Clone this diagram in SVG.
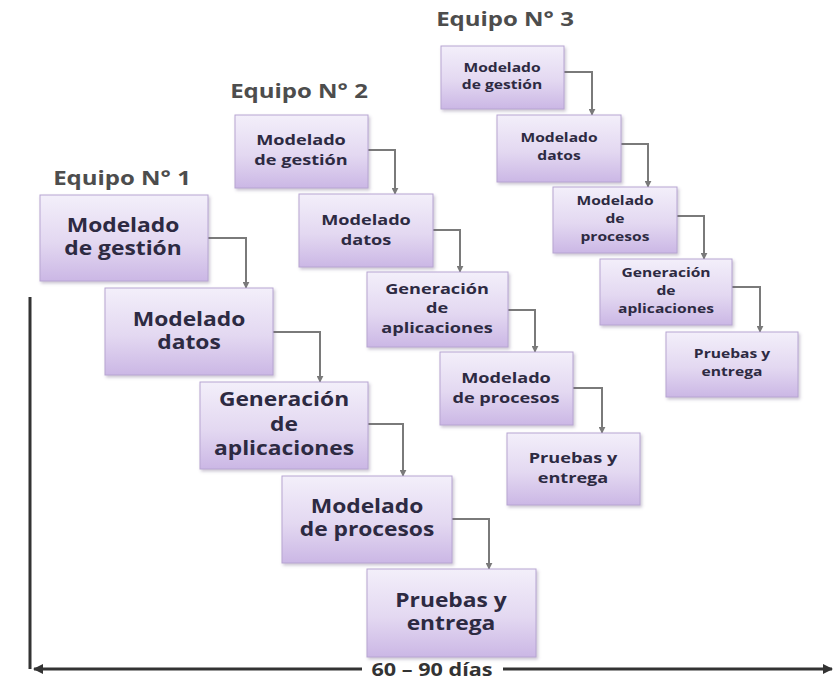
<svg xmlns="http://www.w3.org/2000/svg" width="833" height="678" viewBox="0 0 833 678">
  <defs>
    <linearGradient id="boxFill" x1="0" y1="0" x2="0" y2="1">
      <stop offset="0" stop-color="#f3effa"/>
      <stop offset="0.55" stop-color="#e3d8f1"/>
      <stop offset="1" stop-color="#cbb7e5"/>
    </linearGradient>
    <filter id="shadow" x="-10%" y="-10%" width="125%" height="130%">
      <feDropShadow dx="1.5" dy="2" stdDeviation="1.5" flood-color="#6a5a80" flood-opacity="0.35"/>
    </filter>
    <marker id="stepArrow" viewBox="0 0 10 10" refX="9" refY="5" markerWidth="7" markerHeight="7" markerUnits="userSpaceOnUse" orient="auto">
      <path d="M0,0 L10,5 L0,10 z" fill="#7a7a7a"/>
    </marker>
    <marker id="axisArrow" viewBox="0 0 10 10" refX="9" refY="5" markerWidth="10" markerHeight="10" markerUnits="userSpaceOnUse" orient="auto">
      <path d="M0,0 L10,5 L0,10 z" fill="#333"/>
    </marker>
  </defs>
  <style>
    .box { fill: url(#boxFill); stroke: #b7a5d2; stroke-width: 1; filter: url(#shadow); }
    .t1 { font-family: "Open Sans", "Liberation Sans", sans-serif; font-weight: bold; font-size: 19px; fill: #2d2a42; text-anchor: middle; }
    .t2 { font-family: "Open Sans", "Liberation Sans", sans-serif; font-weight: bold; font-size: 14.5px; fill: #2d2a42; text-anchor: middle; }
    .t3 { font-family: "Open Sans", "Liberation Sans", sans-serif; font-weight: bold; font-size: 12.5px; fill: #2d2a42; text-anchor: middle; }
    .team { font-family: "Open Sans", "Liberation Sans", sans-serif; font-weight: bold; font-size: 20px; fill: #4d4d4d; text-anchor: middle; }
    .step { fill: none; stroke: #7a7a7a; stroke-width: 2; marker-end: url(#stepArrow); }
    .axis { fill: none; stroke: #333; stroke-width: 3; }
    .axisLabel { font-family: "Open Sans", "Liberation Sans", sans-serif; font-weight: bold; font-size: 18px; fill: #333; text-anchor: middle; }
  </style>

  <rect width="833" height="678" fill="#ffffff"/>

  <!-- team headings -->
  <g id="team-labels">
    <text class="team" transform="matrix(1.2 0 0 1 122 0)" x="0" y="185">Equipo N° 1</text>
    <text class="team" transform="matrix(1.2 0 0 1 299 0)" x="0" y="98">Equipo N° 2</text>
    <text class="team" transform="matrix(1.2 0 0 1 505 0)" x="0" y="26">Equipo N° 3</text>
  </g>

  <!-- step connectors -->
  <g id="connectors">
    <path class="step" d="M208,238 H246 V288"/>
    <path class="step" d="M273,332 H320 V382"/>
    <path class="step" d="M368,424 H403 V476"/>
    <path class="step" d="M452,519 H489 V569"/>

    <path class="step" d="M368,150 H395 V194"/>
    <path class="step" d="M433,230 H460 V272"/>
    <path class="step" d="M508,310 H535 V352"/>
    <path class="step" d="M573,388 H602 V433"/>

    <path class="step" d="M564,72 H592 V115"/>
    <path class="step" d="M621,144 H648 V187"/>
    <path class="step" d="M677,216 H704 V259"/>
    <path class="step" d="M732,287 H760 V332"/>
  </g>

  <!-- team 1 -->
  <g id="e1-gestion">
    <rect class="box" x="40" y="195" width="168" height="86"/>
    <text class="t1" transform="matrix(1.2 0 0 1 123 0)" x="0" y="232">Modelado</text>
    <text class="t1" transform="matrix(1.2 0 0 1 123 0)" x="0" y="255">de gestión</text>
  </g>
  <g id="e1-datos">
    <rect class="box" x="105" y="288" width="168" height="87"/>
    <text class="t1" transform="matrix(1.2 0 0 1 189 0)" x="0" y="326">Modelado</text>
    <text class="t1" transform="matrix(1.2 0 0 1 189 0)" x="0" y="349">datos</text>
  </g>
  <g id="e1-aplicaciones">
    <rect class="box" x="200" y="382" width="168" height="87"/>
    <text class="t1" transform="matrix(1.2 0 0 1 284 0)" x="0" y="406">Generación</text>
    <text class="t1" transform="matrix(1.2 0 0 1 284 0)" x="0" y="431">de</text>
    <text class="t1" transform="matrix(1.2 0 0 1 284 0)" x="0" y="455">aplicaciones</text>
  </g>
  <g id="e1-procesos">
    <rect class="box" x="282" y="476" width="170" height="87"/>
    <text class="t1" transform="matrix(1.2 0 0 1 367 0)" x="0" y="513">Modelado</text>
    <text class="t1" transform="matrix(1.2 0 0 1 367 0)" x="0" y="536">de procesos</text>
  </g>
  <g id="e1-pruebas">
    <rect class="box" x="367" y="569" width="169" height="88"/>
    <text class="t1" transform="matrix(1.2 0 0 1 451 0)" x="0" y="607">Pruebas y</text>
    <text class="t1" transform="matrix(1.2 0 0 1 451 0)" x="0" y="630">entrega</text>
  </g>

  <!-- team 2 -->
  <g id="e2-gestion">
    <rect class="box" x="235" y="115" width="133" height="73"/>
    <text class="t2" transform="matrix(1.25 0 0 1 301 0)" x="0" y="145">Modelado</text>
    <text class="t2" transform="matrix(1.25 0 0 1 301 0)" x="0" y="165">de gestión</text>
  </g>
  <g id="e2-datos">
    <rect class="box" x="299" y="194" width="134" height="73"/>
    <text class="t2" transform="matrix(1.25 0 0 1 366 0)" x="0" y="225">Modelado</text>
    <text class="t2" transform="matrix(1.25 0 0 1 366 0)" x="0" y="245">datos</text>
  </g>
  <g id="e2-aplicaciones">
    <rect class="box" x="367" y="272" width="141" height="75"/>
    <text class="t2" transform="matrix(1.25 0 0 1 437 0)" x="0" y="294">Generación</text>
    <text class="t2" transform="matrix(1.25 0 0 1 437 0)" x="0" y="313">de</text>
    <text class="t2" transform="matrix(1.25 0 0 1 437 0)" x="0" y="333">aplicaciones</text>
  </g>
  <g id="e2-procesos">
    <rect class="box" x="440" y="352" width="133" height="73"/>
    <text class="t2" transform="matrix(1.25 0 0 1 506 0)" x="0" y="383">Modelado</text>
    <text class="t2" transform="matrix(1.25 0 0 1 506 0)" x="0" y="403">de procesos</text>
  </g>
  <g id="e2-pruebas">
    <rect class="box" x="507" y="433" width="133" height="72"/>
    <text class="t2" transform="matrix(1.25 0 0 1 573 0)" x="0" y="463">Pruebas y</text>
    <text class="t2" transform="matrix(1.25 0 0 1 573 0)" x="0" y="483">entrega</text>
  </g>

  <!-- team 3 -->
  <g id="e3-gestion">
    <rect class="box" x="441" y="46" width="123" height="63"/>
    <text class="t3" transform="matrix(1.25 0 0 1 502 0)" x="0" y="72">Modelado</text>
    <text class="t3" transform="matrix(1.25 0 0 1 502 0)" x="0" y="89">de gestión</text>
  </g>
  <g id="e3-datos">
    <rect class="box" x="497" y="115" width="124" height="67"/>
    <text class="t3" transform="matrix(1.25 0 0 1 559 0)" x="0" y="142">Modelado</text>
    <text class="t3" transform="matrix(1.25 0 0 1 559 0)" x="0" y="160">datos</text>
  </g>
  <g id="e3-procesos">
    <rect class="box" x="553" y="187" width="124" height="66"/>
    <text class="t3" transform="matrix(1.25 0 0 1 615 0)" x="0" y="205">Modelado</text>
    <text class="t3" transform="matrix(1.25 0 0 1 615 0)" x="0" y="223">de</text>
    <text class="t3" transform="matrix(1.25 0 0 1 615 0)" x="0" y="241">procesos</text>
  </g>
  <g id="e3-aplicaciones">
    <rect class="box" x="600" y="259" width="132" height="66"/>
    <text class="t3" transform="matrix(1.25 0 0 1 666 0)" x="0" y="277">Generación</text>
    <text class="t3" transform="matrix(1.25 0 0 1 666 0)" x="0" y="295">de</text>
    <text class="t3" transform="matrix(1.25 0 0 1 666 0)" x="0" y="313">aplicaciones</text>
  </g>
  <g id="e3-pruebas">
    <rect class="box" x="666" y="332" width="132" height="65"/>
    <text class="t3" transform="matrix(1.25 0 0 1 732 0)" x="0" y="358">Pruebas y</text>
    <text class="t3" transform="matrix(1.25 0 0 1 732 0)" x="0" y="376">entrega</text>
  </g>

  <!-- time axis -->
  <g id="time-axis">
    <path class="axis" d="M30,297 V669"/>
    <path class="axis" d="M362,669 H34" marker-end="url(#axisArrow)"/>
    <path class="axis" d="M503,669 H832" marker-end="url(#axisArrow)"/>
    <text class="axisLabel" transform="matrix(1.2 0 0 1 432 0)" x="0" y="676">60 – 90 días</text>
  </g>
</svg>
